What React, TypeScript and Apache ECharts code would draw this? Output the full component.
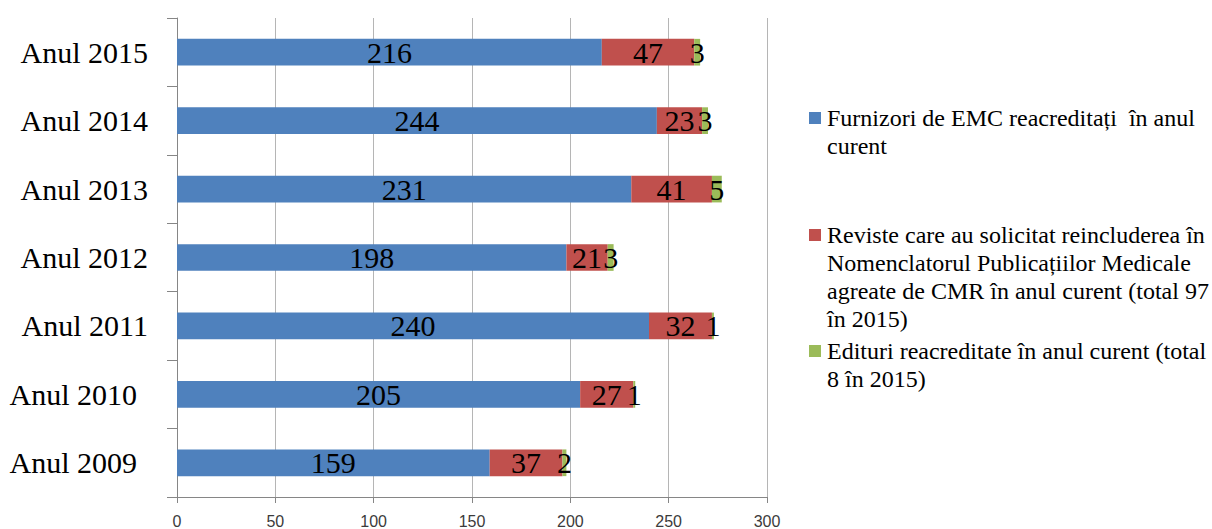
import React, { useEffect, useRef } from "react";
import * as echarts from "echarts";

const categories = ["Anul 2009", "Anul 2010", "Anul 2011", "Anul 2012", "Anul 2013", "Anul 2014", "Anul 2015"];
const furnizori = [159, 205, 240, 198, 231, 244, 216];
const reviste = [37, 27, 32, 21, 41, 23, 47];
const edituri = [2, 1, 1, 3, 5, 3, 3];
const xTicks = [0, 50, 100, 150, 200, 250, 300];

const seriesNames = [
  "Furnizori de EMC reacreditați  în anul\ncurent",
  "Reviste care au solicitat reincluderea în\nNomenclatorul Publicațiilor Medicale\nagreate de CMR în anul curent (total 97\nîn 2015)",
  "Edituri reacreditate în anul curent (total\n8 în 2015)",
];
const colors = ["#4F81BD", "#C0504D", "#9BBB59"];

const SERIF = "'Liberation Serif', 'Times New Roman', serif";

export default function App() {
  const ref = useRef<HTMLDivElement>(null);
  useEffect(() => {
    document.body.style.margin = "0";
    if (!ref.current) return;
    const chart = echarts.init(ref.current, null, { renderer: "svg" });
    const lineH = 28;
    const legendTops = [106, 223, 339];
    const legends = seriesNames.map((name, i) => ({
      orient: "vertical",
      left: 804,
      top: legendTops[i],
      padding: 0,
      icon: "none",
      itemWidth: 0,
      itemHeight: 12,
      selectedMode: false,
      data: [name],
      formatter: (nm: string) =>
        nm
          .split("\n")
          .map((l, k) => (k === 0 ? `{sq|}{g|}{t|${l}}` : `{sp|}{t|${l}}`))
          .join("\n"),
      textStyle: {
        color: "#000",
        fontFamily: SERIF,
        fontSize: 24,
        rich: {
          sq: { width: 12, height: 12, backgroundColor: colors[i], verticalAlign: "middle" },
          g: { width: 6 },
          sp: { width: 18 },
          t: { fontFamily: SERIF, fontSize: 24, lineHeight: lineH, color: "#000" },
        },
      },
    }));
    const labelStyle = {
      show: true,
      position: "inside",
      color: "#000",
      fontFamily: SERIF,
      fontSize: 30,
    };
    const mk = (name: string, data: number[], color: string) => ({
      name,
      type: "bar",
      stack: "total",
      data,
      barCategoryGap: "61%",
      itemStyle: { color },
      label: labelStyle,
    });
    chart.setOption({
      animation: false,
      grid: { left: 177, right: 445, top: 18, bottom: 32, containLabel: false },
      legend: legends,
      xAxis: {
        type: "value",
        min: xTicks[0],
        max: xTicks[xTicks.length - 1],
        interval: xTicks[1] - xTicks[0],
        axisLine: { show: true, lineStyle: { color: "#868686", width: 1 } },
        axisTick: { show: true, length: 6, lineStyle: { color: "#868686" } },
        splitLine: { show: true, lineStyle: { color: "#b5b5b5", width: 1 } },
        axisLabel: {
          fontFamily: "'Liberation Sans', Arial, sans-serif",
          fontSize: 16,
          color: "#3b3b3b",
          margin: 16,
        },
      },
      yAxis: {
        type: "category",
        data: categories,
        axisLine: { show: true, lineStyle: { color: "#868686", width: 1 } },
        axisTick: { show: true, length: 10, lineStyle: { color: "#868686" } },
        axisLabel: {
          margin: 29,
          formatter: (v: string) =>
            v === "Anul 2009" || v === "Anul 2010" ? `{b|${v}}` : `{a|${v}}`,
          rich: {
            a: { fontFamily: SERIF, fontSize: 30, color: "#000" },
            b: { fontFamily: SERIF, fontSize: 30, color: "#000", padding: [0, 11, 0, 0] },
          },
        },
      },
      series: [
        mk(seriesNames[0], furnizori, colors[0]),
        mk(seriesNames[1], reviste, colors[1]),
        mk(seriesNames[2], edituri, colors[2]),
      ],
    });
    return () => chart.dispose();
  }, []);
  return <div ref={ref} style={{ width: 1212, height: 529 }} />;
}
